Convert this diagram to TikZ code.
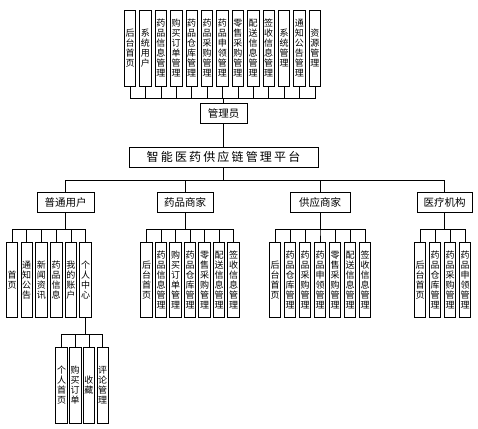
\documentclass[tikz,border=0pt]{standalone}
\usepackage{fontspec}
\setmainfont{Noto Sans CJK SC}
\newfontfamily\titlefont[LetterSpace=18]{Noto Sans CJK SC}
\usetikzlibrary{positioning}
\ExplSyntaxOn
\NewDocumentCommand \vlabel { m }
  {
    \tl_set:Nx \l_tmpa_tl {#1}
    \seq_clear:N \l_tmpa_seq
    \tl_map_inline:Nn \l_tmpa_tl { \seq_put_right:Nn \l_tmpa_seq {##1} }
    \seq_use:Nn \l_tmpa_seq { \\ }
  }
\ExplSyntaxOff
\tikzset{
  box/.style={draw, line width=0.7pt, inner sep=0pt, anchor=north},
  leaf/.style={box, minimum width=11.5pt, minimum height=75pt, text width=9pt, align=center, font=\fontsize{9}{10}\selectfont},
  head/.style={box, minimum height=20pt, font=\fontsize{10.5}{12}\selectfont},
  wire/.style={line width=0.6pt}
}

\begin{document}
\begin{tikzpicture}[x=1pt, y=-1pt]
  \useasboundingbox (0,0) rectangle (478,428);
  \foreach \t [count=\i] in {后台首页,系统用户,药品信息管理,购买订单管理,药品仓库管理,药品采购管理,药品申领管理,零售采购管理,配送信息管理,签收信息管理,系统管理,通知公告管理,资源管理}
    \node[leaf, minimum height=76pt] (a\i) at ({130+15.4*(\i-1)},10) {\vlabel{\t}};
  \node[head, minimum width=47pt] (adm) at (223.5,103) {管理员};
  \node[head, minimum width=189pt, font=\titlefont\fontsize{12}{14}\selectfont] (plat) at (223.5,147) {智能医药供应链管理平台};
  \node[head, minimum width=57pt] (c1) at (65.5,192) {普通用户};
  \node[head, minimum width=56pt] (c2) at (185,192) {药品商家};
  \node[head, minimum width=60pt] (c3) at (320,192) {供应商家};
  \node[head, minimum width=55pt] (c4) at (444.5,192) {医疗机构};
  \foreach \t [count=\i] in {首页,通知公告,新闻资讯,药品信息,我的账户,个人中心}
    \node[leaf] (u\i) at ({12+14.7*(\i-1)},242) {\vlabel{\t}};
  \foreach \t [count=\i] in {后台首页,药品信息管理,购买订单管理,药品仓库管理,零售采购管理,配送信息管理,签收信息管理}
    \node[leaf] (m\i) at ({146.5+14.5*(\i-1)},242) {\vlabel{\t}};
  \foreach \t [count=\i] in {后台首页,药品仓库管理,药品采购管理,药品申领管理,零售采购管理,配送信息管理,签收信息管理}
    \node[leaf] (s\i) at ({275+15*(\i-1)},242) {\vlabel{\t}};
  \foreach \t [count=\i] in {后台首页,药品仓库管理,药品采购管理,药品申领管理}
    \node[leaf] (h\i) at ({420+15*(\i-1)},242) {\vlabel{\t}};
  \foreach \t [count=\i] in {个人首页,购买订单,收藏,评论管理}
    \node[leaf, minimum height=76pt] (p\i) at ({61.5+13.7*(\i-1)},347) {\vlabel{\t}};

  \foreach \i in {1,...,13}
    \draw[wire] (adm.north) -- ++(0,-5) -| (a\i.south);
  \draw[wire] (adm.south) -- (plat.north);
  \foreach \i in {1,...,4}
    \draw[wire] (plat.south) -- ++(0,13) -| (c\i.north);
  \foreach \i in {1,...,6}
    \draw[wire] (c1.south) -- ++(0,17) -| (u\i.north);
  \foreach \i in {1,...,7}
    \draw[wire] (c2.south) -- ++(0,17) -| (m\i.north);
  \foreach \i in {1,...,7}
    \draw[wire] (c3.south) -- ++(0,17) -| (s\i.north);
  \foreach \i in {1,...,4}
    \draw[wire] (c4.south) -- ++(0,17) -| (h\i.north);
  \foreach \i in {1,...,4}
    \draw[wire] (u6.south) -- ++(0,17) -| (p\i.north);
\end{tikzpicture}
\end{document}
